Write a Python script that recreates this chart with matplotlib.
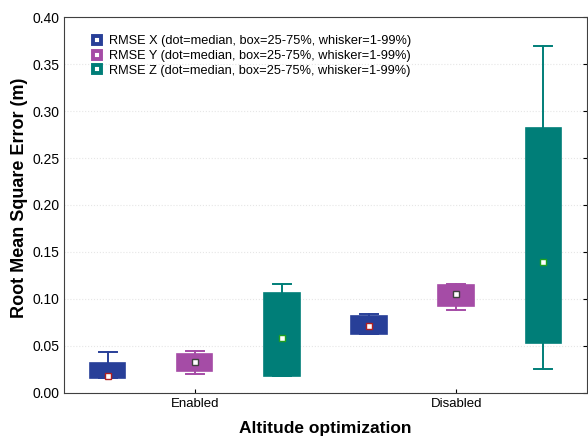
import matplotlib
matplotlib.use("Agg")
import matplotlib.pyplot as plt
from matplotlib.lines import Line2D

groups = ["Enabled", "Disabled"]
series = ["RMSE X", "RMSE Y", "RMSE Z"]
colors = ["#283f98", "#a54ca6", "#007e78"]
median_edge = ["#b02020", "#404040", "#20a020"]

# per series, per group: whisker low, q1, median, q3, whisker high
whislo = [[0.016, 0.063], [0.020, 0.088], [0.018, 0.025]]
q1 = [[0.016, 0.063], [0.023, 0.093], [0.018, 0.053]]
med = [[0.018, 0.071], [0.033, 0.105], [0.058, 0.139]]
q3 = [[0.032, 0.082], [0.041, 0.115], [0.106, 0.282]]
whishi = [[0.043, 0.084], [0.045, 0.116], [0.116, 0.369]]

plt.rcParams['font.family'] = ['Liberation Sans', 'DejaVu Sans']

fig = plt.figure(figsize=(5.88, 4.38), dpi=100)
ax = fig.add_axes([0.109, 0.103, 0.889, 0.858])

offsets = [-1 / 3, 0, 1 / 3]
for s in range(3):
    stats = []
    for g in range(2):
        stats.append(dict(whislo=whislo[s][g], q1=q1[s][g], med=med[s][g],
                          q3=q3[s][g], whishi=whishi[s][g], fliers=[]))
    pos = [g + offsets[s] for g in range(2)]
    c = colors[s]
    ax.bxp(stats, positions=pos, widths=0.135, patch_artist=True,
           showfliers=False, showcaps=True,
           boxprops=dict(facecolor=c, edgecolor=c, linewidth=1.2),
           whiskerprops=dict(color=c, linewidth=1.4),
           capprops=dict(color=c, linewidth=1.4),
           medianprops=dict(linewidth=0), capwidths=0.07)
    ax.plot(pos, med[s], linestyle="none", marker="s", markersize=4.5,
            markerfacecolor="white", markeredgecolor=median_edge[s],
            markeredgewidth=1.0, zorder=5)

ax.set_xlim(-0.5, 1.5)
ax.set_ylim(0, 0.40)
ax.set_xticks(range(2))
ax.set_xticklabels(groups, fontsize=9.5)
ax.set_yticks([i * 0.05 for i in range(9)])
ax.set_yticklabels([f"{i * 0.05:.2f}" for i in range(9)], fontsize=10)
ax.tick_params(axis="y", direction="in", length=3, right=True, left=False)
ax.tick_params(axis="x", direction="in", length=3, top=False)
ax.grid(axis="y", color="#e6e6e6", linestyle=":", linewidth=0.8)
ax.set_axisbelow(True)
for sp in ax.spines.values():
    sp.set_color("#404040")
    sp.set_linewidth(0.8)

ax.set_ylabel("Root Mean Square Error (m)", fontsize=13, fontweight="bold")
ax.yaxis.set_label_coords(-0.07, 0.52)
ax.set_xlabel("Altitude optimization", fontsize=12.5, fontweight="bold",
              labelpad=8)

handles = [Line2D([], [], linestyle="none", marker="s", markersize=6,
                  markerfacecolor="white", markeredgecolor=c, markeredgewidth=2.8)
           for c in colors]
labels = [f"{n} (dot=median, box=25-75%, whisker=1-99%)" for n in series]
ax.legend(handles, labels, loc="upper left", bbox_to_anchor=(0.045, 0.965),
          frameon=False, fontsize=9.2, handlelength=0.7, handletextpad=0.55,
          labelspacing=0.22, borderaxespad=0)

fig.savefig("out.png", dpi=100)
